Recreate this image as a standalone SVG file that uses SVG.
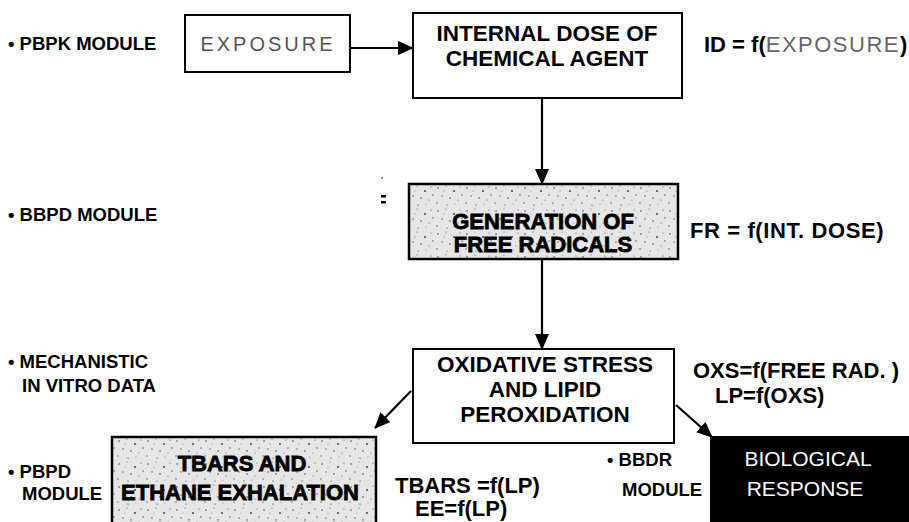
<svg xmlns="http://www.w3.org/2000/svg" width="909" height="522" viewBox="0 0 909 522">
<style>
text{font-family:"Liberation Sans",Arial,Helvetica,sans-serif;fill:#000}
.lbl{font-size:18.5px;font-weight:bold}
.bx{font-size:22.5px;font-weight:bold;text-anchor:middle}
.heavy{font-size:22px;font-weight:bold;text-anchor:middle;stroke:#000;stroke-width:0.8}
.fx{font-size:22px;font-weight:bold}
.faded{font-weight:normal;fill:#666;letter-spacing:1.5px}
.box{fill:#fff;stroke:#000;stroke-width:2}
.grey{fill:url(#stip);stroke:#000;stroke-width:2.5}
.conn{stroke:#000;stroke-width:2.2;fill:none;marker-end:url(#ah)}
</style>
<defs>
<marker id="ah" markerUnits="userSpaceOnUse" markerWidth="16" markerHeight="14" refX="15" refY="7" orient="auto">
<path d="M0,0 L16,7 L0,14 Z" fill="#000"/>
</marker>
<pattern id="stip" patternUnits="userSpaceOnUse" width="29" height="23">
<rect width="29" height="23" fill="#e6e6e6"/>
<circle cx="3" cy="4" r="0.8" fill="#444"/>
<circle cx="11" cy="2" r="0.6" fill="#666"/>
<circle cx="19" cy="7" r="0.9" fill="#333"/>
<circle cx="25" cy="3" r="0.6" fill="#555"/>
<circle cx="7" cy="12" r="0.7" fill="#555"/>
<circle cx="15" cy="14" r="0.8" fill="#444"/>
<circle cx="23" cy="16" r="0.6" fill="#666"/>
<circle cx="2" cy="19" r="0.7" fill="#555"/>
<circle cx="12" cy="21" r="0.6" fill="#333"/>
<circle cx="27" cy="11" r="0.7" fill="#444"/>
<circle cx="9" cy="7" r="0.5" fill="#777"/>
<circle cx="20" cy="20" r="0.5" fill="#777"/>
</pattern>
</defs>

<g id="labels">
<text class="lbl" x="8" y="50">• PBPK MODULE</text>
<text class="lbl" x="8" y="221">• BBPD MODULE</text>
<text class="lbl" x="8" y="368">• MECHANISTIC</text>
<text class="lbl" x="22" y="392">IN VITRO DATA</text>
<text class="lbl" x="8" y="478">• PBPD</text>
<text class="lbl" x="22" y="500">MODULE</text>
<text class="lbl" x="607" y="466">• BBDR</text>
<text class="lbl" x="622" y="496">MODULE</text>
</g>

<g id="formulas">
<text class="fx" x="704" y="52">ID = f(<tspan class="faded">EXPOSURE</tspan>)</text>
<text class="fx" x="690" y="238" style="letter-spacing:0.6px">FR = f(INT. DOSE)</text>
<text class="fx" x="693" y="378">OXS=f(FREE RAD. )</text>
<text class="fx" x="715" y="403">LP=f(OXS)</text>
<text class="fx" x="395" y="493">TBARS =f(LP)</text>
<text class="fx" x="415" y="516">EE=f(LP)</text>
</g>

<g id="exposure">
<rect class="box" x="185" y="15" width="165" height="57"/>
<text x="268" y="51" style="font-size:20px;fill:#555;text-anchor:middle;letter-spacing:3px">EXPOSURE</text>
</g>

<g id="internal-dose">
<rect class="box" x="413" y="13" width="269" height="85"/>
<text class="bx" x="547" y="41">INTERNAL DOSE OF</text>
<text class="bx" x="547" y="66">CHEMICAL AGENT</text>
</g>

<g id="free-radicals">
<rect class="grey" x="409" y="184" width="269" height="75"/>
<text class="heavy" x="543" y="229">GENERATION OF</text>
<text class="heavy" x="543" y="252">FREE RADICALS</text>
</g>

<g id="oxidative-stress">
<rect class="box" x="413" y="349" width="261" height="94"/>
<text class="bx" x="545" y="372">OXIDATIVE STRESS</text>
<text class="bx" x="545" y="397">AND LIPID</text>
<text class="bx" x="545" y="422">PEROXIDATION</text>
</g>

<g id="tbars">
<rect class="grey" x="112" y="437" width="264" height="95"/>
<text class="heavy" x="242" y="471">TBARS AND</text>
<text class="heavy" x="240" y="500">ETHANE EXHALATION</text>
</g>

<g id="biological-response">
<rect x="710" y="436" width="210" height="96" fill="#000"/>
<text x="808" y="466" style="font-size:21px;fill:#fff;text-anchor:middle">BIOLOGICAL</text>
<text x="805" y="496" style="font-size:21px;fill:#fff;text-anchor:middle">RESPONSE</text>
</g>

<g id="specks">
<rect x="381" y="195" width="5" height="2.5" fill="#000"/>
<rect x="381" y="201" width="5" height="2.5" fill="#000"/>
<circle cx="382" cy="178" r="0.8" fill="#000"/>
</g>

<g id="connectors">
<line class="conn" x1="350" y1="48" x2="413" y2="48"/>
<line class="conn" x1="542" y1="98" x2="542" y2="184"/>
<line class="conn" x1="542" y1="259" x2="542" y2="349"/>
<line class="conn" x1="411" y1="391" x2="375" y2="428"/>
<line class="conn" x1="676" y1="405" x2="712" y2="437"/>
</g>
</svg>
